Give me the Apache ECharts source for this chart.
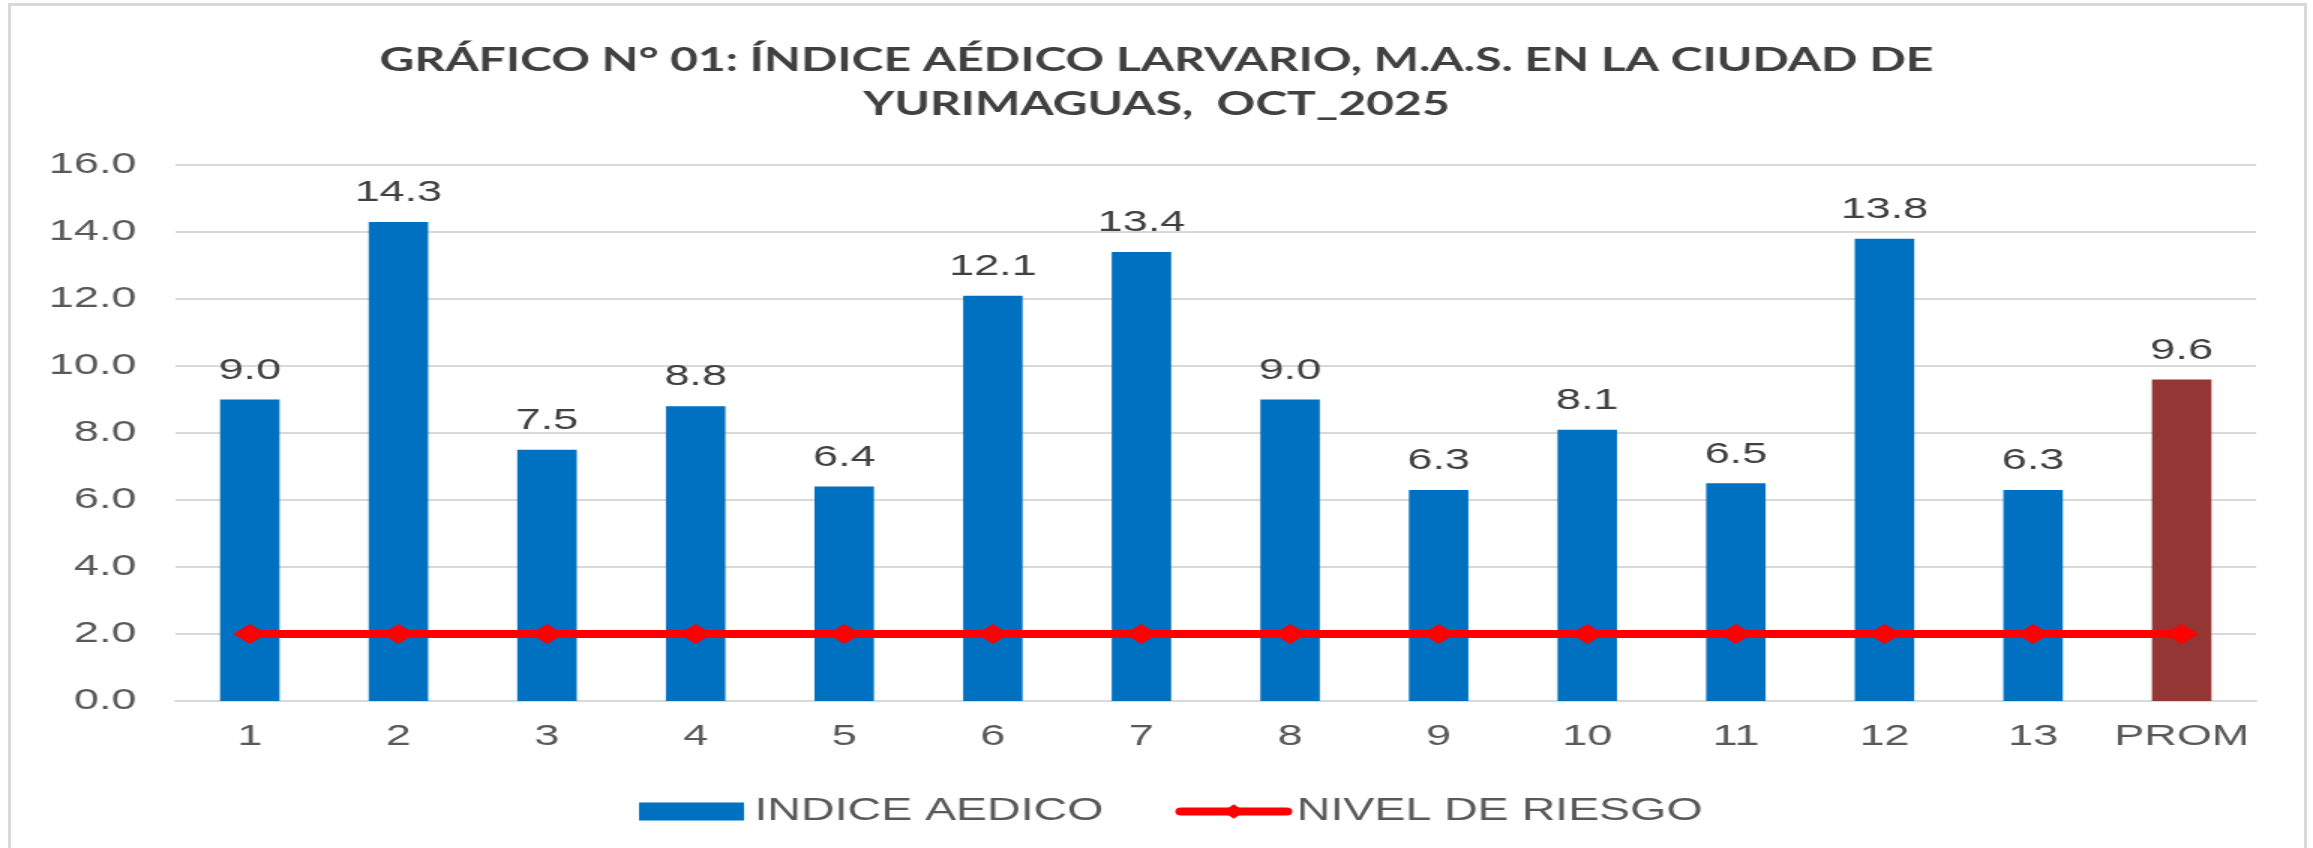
<!DOCTYPE html>
<html>
<head>
<meta charset="utf-8">
<script src="https://cdn.jsdelivr.net/npm/echarts@6/dist/echarts.min.js"></script>
<style>
  html, body { margin: 0; padding: 0; background: #ffffff; width: 2313px; height: 848px; overflow: hidden; }
  #chart { position: absolute; left: 0; top: 0; width: 1542px; height: 848px; transform: scaleX(1.5); transform-origin: 0 0; }
  #frame { position: absolute; left: 8px; top: 3px; width: 2299px; height: 900px; border: 3px solid #d9d9d9; box-sizing: border-box; pointer-events: none; }
</style>
</head>
<body>
<div id="chart"></div>
<div id="frame"></div>
<script>
// ---- data ----
const titleText = 'GRÁFICO N° 01: ÍNDICE AÉDICO LARVARIO, M.A.S. EN LA CIUDAD DE\nYURIMAGUAS,  OCT_2025';
const categories = ['1', '2', '3', '4', '5', '6', '7', '8', '9', '10', '11', '12', '13', 'PROM'];
const indiceAedico = [9.0, 14.3, 7.5, 8.8, 6.4, 12.1, 13.4, 9.0, 6.3, 8.1, 6.5, 13.8, 6.3, 9.6];
const nivelRiesgo = [2.0, 2.0, 2.0, 2.0, 2.0, 2.0, 2.0, 2.0, 2.0, 2.0, 2.0, 2.0, 2.0, 2.0];
const seriesNames = ['INDICE AEDICO', 'NIVEL DE RIESGO'];
const yTicks = { min: 0, max: 16, interval: 2 };

const BLUE = '#0070C0';
const PROM_COLOR = '#943634';
const RED = '#FF0000';

const chart = echarts.init(document.getElementById('chart'), null, { renderer: 'canvas' });

const barData = indiceAedico.map((v, i) => (
  categories[i] === 'PROM' ? { value: v, itemStyle: { color: PROM_COLOR } } : v
));

chart.setOption({
  animation: false,
  backgroundColor: '#ffffff',
  title: {
    text: titleText,
    left: 'center',
    top: 34,
    textStyle: {
      fontFamily: 'Lato',
      fontWeight: 'bold',
      fontSize: 32,
      lineHeight: 44,
      color: '#404040'
    }
  },
  grid: { left: 117, right: 38, top: 165, bottom: 147, containLabel: false },
  legend: {
    left: 421,
    top: 791,
    itemWidth: 70,
    itemHeight: 18,
    itemGap: 48,
    textStyle: { fontFamily: 'Liberation Sans', fontSize: 31, color: '#595959', padding: [0, 0, 0, 2] },
    data: [
      { name: seriesNames[0], icon: 'rect', itemStyle: { color: BLUE } },
      { name: seriesNames[1], lineStyle: { width: 8, color: RED, cap: 'round' }, itemStyle: { color: RED } }
    ]
  },
  xAxis: {
    type: 'category',
    data: categories,
    axisLine: { show: true, lineStyle: { color: '#d9d9d9', width: 2 } },
    axisTick: { show: false },
    axisLabel: { interval: 0, margin: 21, fontFamily: 'Liberation Sans', fontSize: 30, color: '#595959' }
  },
  yAxis: {
    type: 'value',
    min: yTicks.min,
    max: yTicks.max,
    interval: yTicks.interval,
    axisLine: { show: false },
    axisTick: { show: false },
    splitLine: { lineStyle: { color: '#d9d9d9', width: 2 } },
    axisLabel: {
      margin: 26,
      fontFamily: 'Liberation Sans',
      fontSize: 30,
      color: '#595959',
      formatter: v => v.toFixed(1)
    }
  },
  series: [
    {
      name: seriesNames[0],
      type: 'bar',
      data: barData,
      barWidth: '40%',
      itemStyle: { color: BLUE },
      label: {
        show: true,
        position: 'top',
        distance: 14,
        fontFamily: 'Liberation Sans',
        fontSize: 30,
        color: '#404040',
        formatter: p => Number(p.value).toFixed(1)
      },
      z: 2
    },
    {
      name: seriesNames[1],
      type: 'line',
      data: nivelRiesgo,
      symbol: 'diamond',
      symbolSize: [22, 20],
      itemStyle: { color: RED },
      lineStyle: { color: RED, width: 8 },
      z: 3
    }
  ]
});
</script>
</body>
</html>
